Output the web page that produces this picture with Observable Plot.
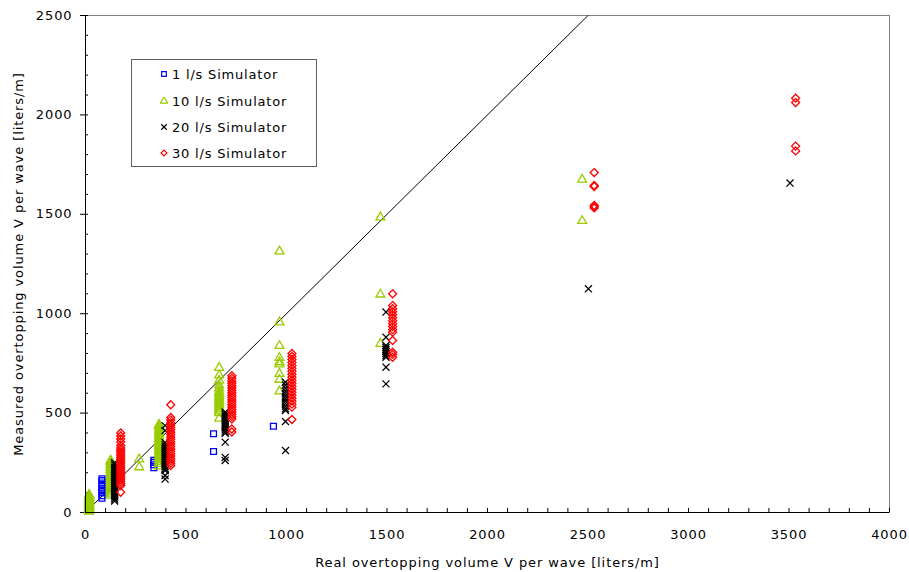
<!DOCTYPE html>
<html><head><meta charset="utf-8">
<script src="https://cdn.jsdelivr.net/npm/d3@7"></script>
<script src="https://cdn.jsdelivr.net/npm/@observablehq/plot@0.6"></script>
<style>
body{margin:0;background:#fff;font-family:"DejaVu Sans",Verdana,sans-serif;}
#wrap{position:relative;width:909px;height:572px;}
#wrap svg text{letter-spacing:0.9px;}
#legend{position:absolute;left:131px;top:59px;width:186px;height:108px;border:1px solid #606060;background:#fff;box-sizing:border-box;}
.row{position:absolute;left:0;height:20px;display:flex;align-items:center;font-size:13px;letter-spacing:0.8px;color:#000;white-space:nowrap;}
.row svg{margin-left:28px;margin-right:4px;}
</style></head><body><div id="wrap"></div>
<script>
// Series names / styles
const seriesNames = ["1 l/s Simulator", "10 l/s Simulator", "20 l/s Simulator", "30 l/s Simulator"];
const seriesColors = ["#0000ff", "#99cc00", "#000000", "#ff0000"];
const seriesSymbols = ["square", "triangle", "times", "diamond2"];

// Data: [real volume, [measured volumes...]]
const sim1 = [
  [82, [72, 85, 98, 110, 122, 135, 148, 160, 170]],
  [340, [225, 240, 252, 262]],
  [637, [307, 396]],
  [935, [434]]
];
const sim10 = [
  [18, [5, 10, 15, 20, 25, 30, 35, 40, 45, 50, 55, 60, 65, 70, 75, 80, 85, 90]],
  [125, [85, 95, 105, 115, 125, 135, 145, 155, 165, 175, 185, 195, 205, 215, 225, 235, 245, 255, 262]],
  [267, [228, 268]],
  [366, [232, 245, 255, 265, 275, 285, 295, 305, 315, 325, 335, 345, 355, 365, 375, 385, 395, 405, 415, 425, 435, 442]],
  [665, [728, 690, 664, 640, 625, 610, 600, 590, 580, 570, 560, 550, 540, 530, 520, 510, 500, 473]],
  [965, [1314, 957, 838, 778, 756, 745, 698, 668, 610]],
  [1467, [1485, 1097, 849]],
  [2471, [1675, 1467]]
];
const sim20 = [
  [145, [58, 68, 78, 88, 98, 108, 118, 128, 138, 148, 158, 168, 178, 188, 198, 208, 218, 228, 240, 250]],
  [396, [437, 412, 352, 340, 330, 320, 310, 300, 290, 280, 270, 260, 250, 240, 230, 220, 211, 186, 168]],
  [695, [505, 495, 485, 475, 465, 455, 445, 435, 425, 415, 405, 398, 354, 277, 262]],
  [995, [655, 640, 625, 610, 598, 585, 572, 560, 548, 535, 522, 513, 458, 312]],
  [1495, [1008, 882, 840, 830, 820, 810, 800, 790, 781, 731, 647]],
  [2502, [1125]],
  [3505, [1657]]
];
const sim30 = [
  [175, [400, 385, 370, 355, 337, 325, 315, 305, 295, 285, 275, 265, 255, 245, 235, 225, 215, 205, 195, 185, 175, 165, 155, 145, 136, 102]],
  [424, [542, 478, 465, 452, 440, 428, 416, 404, 392, 380, 368, 356, 344, 332, 320, 308, 296, 284, 272, 260, 248, 236]],
  [728, [688, 675, 662, 650, 638, 626, 614, 602, 590, 578, 566, 554, 542, 530, 518, 506, 494, 482, 470, 420, 405]],
  [1027, [800, 785, 770, 755, 740, 725, 710, 695, 680, 665, 650, 635, 620, 605, 590, 575, 560, 545, 530, 468]],
  [1528, [1100, 1041, 1025, 1010, 995, 980, 965, 950, 935, 920, 907, 865, 806, 795, 781]],
  [2531, [1710, 1645, 1640, 1545, 1538, 1532]],
  [3533, [2084, 2062, 1843, 1819]]
];
const allSeries = [sim1, sim10, sim20, sim30];

// Axes
const xDomain = [0, 4000];
const yDomain = [0, 2500];
const xMajor = [0, 500, 1000, 1500, 2000, 2500, 3000, 3500, 4000];
const yMajor = [0, 500, 1000, 1500, 2000, 2500];
const xMinor = d3.range(0, 4001, 100);
const yMinor = d3.range(0, 2501, 100);
const lineX = [0, 2500];
const lineY = [0, 2500];
const xLabel = "Real overtopping volume V per wave [liters/m]";
const yLabel = "Measured overtopping volume V per wave [liters/m]";

const rows = [];
allSeries.forEach((groups, i) => {
  groups.forEach(([x, ys]) => ys.forEach(y => rows.push({x, y, s: i})));
});
const diag = lineX.map((x, i) => ({x, y: lineY[i]}));

const font = '"DejaVu Sans", Verdana, sans-serif';
const chart = Plot.plot({
  width: 909, height: 572,
  marginLeft: 85, marginRight: 20, marginTop: 15, marginBottom: 60,
  style: {fontFamily: font, fontSize: "13px", color: "#000", background: "#fff"},
  x: {domain: xDomain},
  y: {domain: yDomain},
  marks: [
    Plot.frame({stroke: "#808080"}),
    Plot.axisX(xMinor, {tickSize: -4, tickFormat: () => "", stroke: "#000", label: null}),
    Plot.axisX(xMajor, {tickSize: 0, tickPadding: 17, tickFormat: d => String(d), fontSize: 13,
      label: xLabel, labelAnchor: "center", labelArrow: "none", labelOffset: 54}),
    Plot.axisY(yMinor, {tickSize: -3, tickFormat: () => "", stroke: "#000", label: null}),
    Plot.axisY(yMajor, {tickSize: 5, tickPadding: 8, tickFormat: d => String(d), fontSize: 13,
      label: yLabel, labelAnchor: "center", labelArrow: "none", labelOffset: 72}),
    Plot.line(diag, {x: "x", y: "y", stroke: "#000", strokeWidth: 1, clip: true}),
    ...allSeries.map((_, i) => Plot.dot(rows.filter(d => d.s === i), {
      x: "x", y: "y", symbol: () => seriesSymbols[i], stroke: seriesColors[i],
      r: seriesSymbols[i] === "diamond2" ? 3.6 : 3.3, strokeWidth: 1.3, fill: "none"
    })),
    Plot.ruleX([xDomain[0]], {stroke: "#000"}),
    Plot.ruleY([yDomain[0]], {stroke: "#000"})
  ]
});
const wrap = document.getElementById("wrap");
wrap.appendChild(chart);

// Legend
const legend = document.createElement("div");
legend.id = "legend";
const rowTops = [4, 31, 57, 83];
const symMap = {square: d3.symbolSquare, triangle: d3.symbolTriangle, times: d3.symbolTimes, diamond2: d3.symbolDiamond2};
seriesNames.forEach((name, i) => {
  const row = document.createElement("div");
  row.className = "row";
  row.style.top = rowTops[i] + "px";
  const path = d3.symbol(symMap[seriesSymbols[i]], 22)();
  row.innerHTML = `<svg width="8" height="8" viewBox="-4 -4 8 8"><path d="${path}" fill="none" stroke="${seriesColors[i]}" stroke-width="1.2"/></svg><span>${name}</span>`;
  legend.appendChild(row);
});
wrap.appendChild(legend);
</script></body></html>
